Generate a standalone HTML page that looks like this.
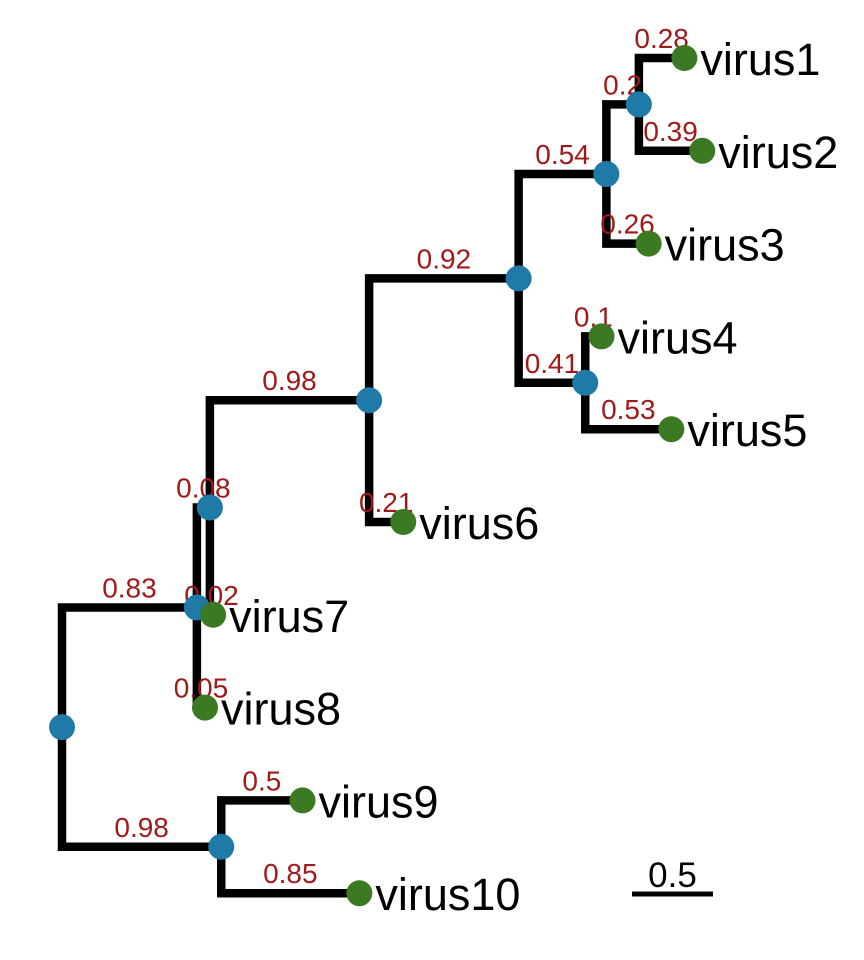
<!DOCTYPE html>
<html><head><meta charset="utf-8"><style>
html,body{margin:0;padding:0;background:#fff;}
svg{display:block;font-family:"Liberation Sans",Arial,sans-serif;}
</style></head><body>
<svg id="tree" width="864" height="960" viewBox="0 0 864 960"></svg>
<script>
const nodeIds = ["root","A","B","C","D","E","F","G","H","virus1","virus2","virus3","virus4","virus5","virus6","virus7","virus8","virus9","virus10"];
const parents = [null,"root","root","A","C","D","E","E","F","H","H","F","G","G","D","C","A","B","B"];
const branchLengths = [0,0.83,0.98,0.08,0.98,0.92,0.54,0.41,0.2,0.28,0.39,0.26,0.1,0.53,0.21,0.02,0.05,0.5,0.85];
const tipOrder = ["virus1","virus2","virus3","virus4","virus5","virus6","virus7","virus8","virus9","virus10"];
const scaleValue = 0.5;

const ns = "http://www.w3.org/2000/svg";
const svg = document.getElementById("tree");
const x0 = 62, pxPerUnit = 162.5, yTop = 58, tipGap = 92.8;
const xScale = d => x0 + d * pxPerUnit;
const parentOf = {}, blOf = {}, children = {};
nodeIds.forEach((id,i) => { parentOf[id] = parents[i]; blOf[id] = branchLengths[i]; children[id] = []; });
nodeIds.forEach(id => { if (parentOf[id]) children[parentOf[id]].push(id); });
const depth = {}, ypos = {};
function getDepth(id){ if(depth[id]!==undefined) return depth[id]; depth[id] = parentOf[id] ? getDepth(parentOf[id]) + blOf[id] : 0; return depth[id]; }
function getY(id){ if(ypos[id]!==undefined) return ypos[id];
  const ti = tipOrder.indexOf(id);
  if (ti >= 0) ypos[id] = yTop + ti * tipGap;
  else { const c = children[id].map(getY); ypos[id] = c.reduce((a,b)=>a+b,0)/c.length; }
  return ypos[id]; }
nodeIds.forEach(id => { getDepth(id); getY(id); });

function el(tag, attrs, parent){ const e = document.createElementNS(ns, tag); for (const k in attrs) e.setAttribute(k, attrs[k]); (parent||svg).appendChild(e); return e; }

const gEdges = el("g", {});


const gLabels = el("g", {});
const gNodes = el("g", {});

nodeIds.forEach(id => {
  const p = parentOf[id]; if (!p) return;
  const px = xScale(depth[p]), py = ypos[p], cx = xScale(depth[id]), cy = ypos[id];
  const path = el("path", {d:`M${px},${py} L${px},${cy} L${cx},${cy}`, fill:"none", stroke:"#000", "stroke-width":8.5, "stroke-linecap":"square"}, gEdges);
  
  
  const t = el("text", {x:(px+cx)/2, y:cy-10, "text-anchor":"middle", "font-size":28, fill:"#a01a1a"}, gLabels);
  t.textContent = String(blOf[id]);
  
  
});

nodeIds.forEach(id => {
  const isTip = tipOrder.includes(id);
  const c = el("circle", {cx:xScale(depth[id]), cy:ypos[id], r:13, fill: isTip ? "#3b7a22" : "#1f7aa8"}, gNodes);
  
  
  if (isTip) {
    const t = el("text", {x:xScale(depth[id])+16, y:ypos[id]+17, "font-size":45, fill:"#000"}, gNodes);
    t.textContent = id;
    
    
  }
});

const sbX = 632, sbY = 894;
const sb = el("line", {x1:sbX, y1:sbY, x2:sbX + 81, y2:sbY, stroke:"#000", "stroke-width":5});


const sbt = el("text", {x:sbX+40.5, y:887, "text-anchor":"middle", "font-size":35, fill:"#000"});
sbt.textContent = String(scaleValue);


</script>
</body></html>
